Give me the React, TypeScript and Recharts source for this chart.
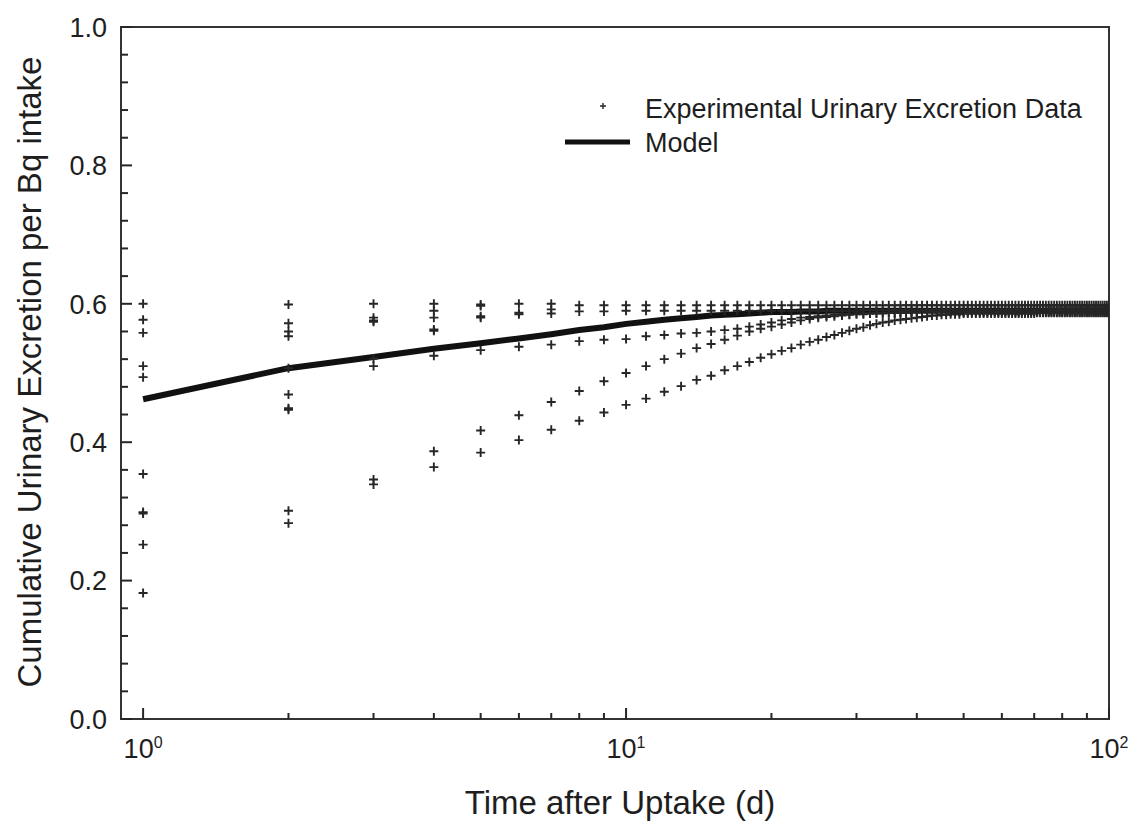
import React from "react";
import {
  ComposedChart,
  Scatter,
  Line,
  XAxis,
  YAxis,
  ReferenceArea,
  Legend,
  Label,
} from "recharts";

const FONT = '"Liberation Sans", Arial, Helvetica, sans-serif';
const INK = "#262626";
const TEXT = "#1e1e1e";

// days after uptake, one sample per day
const DAYS = [
  1, 2, 3, 4, 5, 6, 7, 8, 9, 10,
  11, 12, 13, 14, 15, 16, 17, 18, 19, 20,
  21, 22, 23, 24, 25, 26, 27, 28, 29, 30,
  31, 32, 33, 34, 35, 36, 37, 38, 39, 40,
  41, 42, 43, 44, 45, 46, 47, 48, 49, 50,
  51, 52, 53, 54, 55, 56, 57, 58, 59, 60,
  61, 62, 63, 64, 65, 66, 67, 68, 69, 70,
  71, 72, 73, 74, 75, 76, 77, 78, 79, 80,
  81, 82, 83, 84, 85, 86, 87, 88, 89, 90,
  91, 92, 93, 94, 95, 96, 97, 98, 99, 100,
];

// experimental cumulative excretion, the curves that stay distinct
const SUBJECT_A = [
  0.600, 0.599, 0.600, 0.600, 0.599, 0.600, 0.600, 0.598, 0.598, 0.598,
  0.598, 0.598, 0.598, 0.598, 0.598, 0.598, 0.598, 0.598, 0.598, 0.598,
  0.598, 0.598, 0.598, 0.598, 0.598, 0.598, 0.598, 0.598, 0.598, 0.598,
  0.598, 0.598, 0.598, 0.598, 0.598, 0.598, 0.598, 0.598, 0.598, 0.598,
  0.598, 0.598, 0.598, 0.598, 0.598, 0.598, 0.598, 0.598, 0.598, 0.598,
  0.598, 0.598, 0.598, 0.598, 0.598, 0.598, 0.598, 0.598, 0.598, 0.598,
  0.598, 0.598, 0.598, 0.598, 0.598, 0.598, 0.598, 0.598, 0.598, 0.598,
  0.598, 0.598, 0.598, 0.598, 0.598, 0.598, 0.598, 0.598, 0.598, 0.598,
  0.598, 0.598, 0.598, 0.598, 0.598, 0.598, 0.598, 0.598, 0.598, 0.598,
  0.598, 0.598, 0.598, 0.598, 0.598, 0.598, 0.598, 0.598, 0.598, 0.598,
];

const SUBJECT_B = [
  0.577, 0.572, 0.580, 0.590, 0.582, 0.587, 0.592, 0.589, 0.589, 0.590,
  0.590, 0.590, 0.590, 0.590, 0.590, 0.590, 0.590, 0.590, 0.590, 0.590,
  0.590, 0.590, 0.590, 0.590, 0.590, 0.590, 0.590, 0.590, 0.590, 0.590,
  0.591, 0.591, 0.591, 0.591, 0.591, 0.591, 0.591, 0.591, 0.591, 0.591,
  0.591, 0.591, 0.591, 0.591, 0.591, 0.591, 0.591, 0.591, 0.591, 0.591,
  0.591, 0.591, 0.591, 0.591, 0.591, 0.591, 0.591, 0.591, 0.591, 0.591,
  0.591, 0.591, 0.591, 0.591, 0.591, 0.591, 0.591, 0.591, 0.591, 0.591,
  0.591, 0.591, 0.591, 0.591, 0.591, 0.591, 0.591, 0.591, 0.591, 0.591,
  0.591, 0.591, 0.591, 0.591, 0.591, 0.591, 0.591, 0.591, 0.591, 0.591,
  0.591, 0.591, 0.591, 0.591, 0.591, 0.591, 0.591, 0.591, 0.591, 0.591,
];

const SUBJECT_E = [
  0.494, 0.507, 0.521, 0.525, 0.533, 0.538, 0.541, 0.546, 0.548, 0.549,
  0.553, 0.555, 0.557, 0.558, 0.560, 0.562, 0.564, 0.567, 0.570, 0.573,
  0.576, 0.578, 0.580, 0.581, 0.582, 0.583, 0.584, 0.585, 0.585, 0.586,
  0.586, 0.586, 0.587, 0.587, 0.587, 0.587, 0.588, 0.588, 0.588, 0.588,
  0.588, 0.588, 0.588, 0.588, 0.588, 0.588, 0.588, 0.588, 0.588, 0.588,
  0.588, 0.588, 0.588, 0.588, 0.588, 0.588, 0.588, 0.588, 0.588, 0.588,
  0.588, 0.588, 0.588, 0.588, 0.588, 0.588, 0.588, 0.588, 0.588, 0.588,
  0.588, 0.588, 0.588, 0.588, 0.588, 0.588, 0.588, 0.588, 0.588, 0.588,
  0.588, 0.588, 0.588, 0.588, 0.588, 0.588, 0.588, 0.588, 0.588, 0.588,
  0.588, 0.588, 0.588, 0.588, 0.588, 0.588, 0.588, 0.588, 0.588, 0.588,
];

const SUBJECT_I = [
  0.252, 0.301, 0.346, 0.387, 0.417, 0.439, 0.458, 0.474, 0.488, 0.500,
  0.510, 0.520, 0.528, 0.536, 0.542, 0.548, 0.554, 0.560, 0.564, 0.567,
  0.570, 0.573, 0.576, 0.578, 0.580, 0.581, 0.582, 0.583, 0.584, 0.585,
  0.585, 0.586, 0.586, 0.586, 0.587, 0.587, 0.587, 0.587, 0.588, 0.588,
  0.588, 0.588, 0.588, 0.588, 0.588, 0.588, 0.588, 0.588, 0.588, 0.588,
  0.588, 0.588, 0.588, 0.588, 0.588, 0.588, 0.588, 0.588, 0.588, 0.588,
  0.588, 0.588, 0.588, 0.588, 0.588, 0.588, 0.588, 0.588, 0.588, 0.588,
  0.588, 0.588, 0.588, 0.588, 0.588, 0.588, 0.588, 0.588, 0.588, 0.588,
  0.588, 0.588, 0.588, 0.588, 0.588, 0.588, 0.588, 0.588, 0.588, 0.588,
  0.588, 0.588, 0.588, 0.588, 0.588, 0.588, 0.588, 0.588, 0.588, 0.588,
];

const SUBJECT_J = [
  0.182, 0.283, 0.339, 0.364, 0.385, 0.403, 0.418, 0.431, 0.443, 0.454,
  0.463, 0.473, 0.481, 0.490, 0.496, 0.504, 0.510, 0.516, 0.522, 0.527,
  0.532, 0.536, 0.541, 0.545, 0.548, 0.552, 0.555, 0.558, 0.561, 0.564,
  0.566, 0.569, 0.571, 0.573, 0.574, 0.576, 0.577, 0.578, 0.579, 0.580,
  0.581, 0.582, 0.583, 0.583, 0.584, 0.584, 0.585, 0.585, 0.585, 0.586,
  0.586, 0.586, 0.586, 0.586, 0.586, 0.586, 0.586, 0.586, 0.586, 0.586,
  0.586, 0.586, 0.586, 0.586, 0.586, 0.586, 0.586, 0.586, 0.586, 0.586,
  0.587, 0.587, 0.587, 0.587, 0.587, 0.587, 0.587, 0.587, 0.587, 0.587,
  0.587, 0.587, 0.587, 0.587, 0.587, 0.587, 0.587, 0.587, 0.587, 0.587,
  0.587, 0.587, 0.587, 0.587, 0.587, 0.587, 0.587, 0.587, 0.587, 0.587,
];

// subjects that only separate from the others during the first days
const EARLY_DAYS = [1, 1, 1, 1, 1, 2, 2, 2, 2, 2, 3, 3, 3, 4, 4, 4, 5, 5, 6, 7];
const EARLY_VALUES = [
  0.558, 0.510, 0.354, 0.297, 0.299,
  0.560, 0.553, 0.469, 0.447, 0.449,
  0.574, 0.576, 0.510,
  0.580, 0.561, 0.563,
  0.597, 0.580,
  0.585,
  0.586,
];

const MODEL = [
  0.462, 0.507, 0.523, 0.535, 0.543, 0.550, 0.556, 0.562, 0.566, 0.571,
  0.574, 0.577, 0.579, 0.581, 0.583, 0.584, 0.585, 0.586, 0.587, 0.588,
  0.588, 0.588, 0.589, 0.589, 0.589, 0.590, 0.590, 0.590, 0.590, 0.590,
  0.590, 0.590, 0.590, 0.590, 0.590, 0.590, 0.590, 0.590, 0.590, 0.590,
  0.590, 0.590, 0.590, 0.590, 0.590, 0.590, 0.590, 0.590, 0.590, 0.590,
  0.590, 0.590, 0.590, 0.590, 0.590, 0.590, 0.590, 0.590, 0.590, 0.590,
  0.590, 0.590, 0.590, 0.590, 0.590, 0.590, 0.590, 0.590, 0.590, 0.590,
  0.590, 0.590, 0.590, 0.590, 0.590, 0.590, 0.590, 0.590, 0.590, 0.590,
  0.590, 0.590, 0.590, 0.590, 0.590, 0.590, 0.590, 0.590, 0.590, 0.590,
  0.590, 0.590, 0.590, 0.590, 0.590, 0.590, 0.590, 0.590, 0.590, 0.590,
];

const X_TICKS = [1, 2, 3, 4, 5, 6, 7, 8, 9, 10, 20, 30, 40, 50, 60, 70, 80, 90, 100];
const X_MAJOR = [1, 10, 100];
const Y_TICKS = [
  0, 0.04, 0.08, 0.12, 0.16, 0.2, 0.24, 0.28, 0.32, 0.36, 0.4, 0.44, 0.48,
  0.52, 0.56, 0.6, 0.64, 0.68, 0.72, 0.76, 0.8, 0.84, 0.88, 0.92, 0.96, 1.0,
];
const Y_MAJOR = [0, 0.2, 0.4, 0.6, 0.8, 1.0];

const experimentalPoints = [SUBJECT_A, SUBJECT_B, SUBJECT_E, SUBJECT_I, SUBJECT_J]
  .flatMap((series) => DAYS.map((day, i) => ({ day, value: series[i] })))
  .concat(EARLY_DAYS.map((day, i) => ({ day, value: EARLY_VALUES[i] })));

const modelPoints = DAYS.map((day, i) => ({ day, value: MODEL[i] }));

function Cross(props: any) {
  const { cx, cy } = props;
  if (cx == null || cy == null) return null;
  const r = 4.5;
  return (
    <path
      d={`M${cx - r},${cy}H${cx + r}M${cx},${cy - r}V${cy + r}`}
      stroke={INK}
      strokeWidth={1.9}
      fill="none"
    />
  );
}

function XTick(props: any) {
  const { x, y, payload } = props;
  const v = payload.value;
  const major = X_MAJOR.includes(v);
  return (
    <g>
      <line x1={x} x2={x} y1={y} y2={y - (major ? 11 : 6)} stroke={INK} strokeWidth={2} />
      {major && (
        <text x={x} y={y + 39} textAnchor="middle" fontSize={27} fill={TEXT} fontFamily={FONT}>
          10
          <tspan dy={-10} fontSize={16}>
            {Math.round(Math.log10(v))}
          </tspan>
        </text>
      )}
    </g>
  );
}

function YTick(props: any) {
  const { x, y, payload } = props;
  const v = payload.value;
  const major = Y_MAJOR.some((m) => Math.abs(m - v) < 1e-9);
  return (
    <g>
      <line x1={x} x2={x + (major ? 11 : 7)} y1={y} y2={y} stroke={INK} strokeWidth={2} />
      {major && (
        <text x={x - 14} y={y} dy="0.36em" textAnchor="end" fontSize={27} fill={TEXT} fontFamily={FONT}>
          {v.toFixed(1)}
        </text>
      )}
    </g>
  );
}

function LegendBox() {
  return (
    <svg width={560} height={80} style={{ display: "block", overflow: "visible" }}>
      <path d="M45,18H51M48,15V21" stroke={INK} strokeWidth={1.4} />
      <text x={90} y={20} dy="0.36em" fontSize={27} fill={TEXT} fontFamily={FONT}>
        Experimental Urinary Excretion Data
      </text>
      <line x1={10} x2={75} y1={54} y2={54} stroke="#111" strokeWidth={5} />
      <text x={90} y={54} dy="0.36em" fontSize={27} fill={TEXT} fontFamily={FONT}>
        Model
      </text>
    </svg>
  );
}

export default function App() {
  return (
    <div style={{ position: "absolute", left: 0, top: 0, width: 1133, height: 825, background: "#fff" }}>
      <ComposedChart width={1133} height={825} margin={{ top: 27, right: 24, bottom: 0, left: 0 }}>
        <XAxis
          dataKey="day"
          type="number"
          scale="log"
          domain={[0.9, 100]}
          allowDataOverflow
          ticks={X_TICKS}
          interval={0}
          height={106}
          axisLine={false}
          tickLine={false}
          tickSize={0}
          tickMargin={0}
          tick={<XTick />}
        >
          <Label
            content={() => (
              <text x={620} y={814} textAnchor="middle" fontSize={33} fill={TEXT} fontFamily={FONT}>
                Time after Uptake (d)
              </text>
            )}
          />
        </XAxis>
        <YAxis
          dataKey="value"
          type="number"
          domain={[0, 1]}
          ticks={Y_TICKS}
          interval={0}
          width={121}
          axisLine={false}
          tickLine={false}
          tickSize={0}
          tickMargin={0}
          tick={<YTick />}
        >
          <Label
            content={() => (
              <text
                transform="translate(29,372) rotate(-90)"
                dy="0.36em"
                textAnchor="middle"
                fontSize={33}
                fill={TEXT}
                fontFamily={FONT}
              >
                Cumulative Urinary Excretion per Bq intake
              </text>
            )}
          />
        </YAxis>
        <ReferenceArea
          x1={0.9}
          x2={100}
          y1={0}
          y2={1}
          fill="none"
          stroke="#333"
          strokeWidth={2}
          ifOverflow="visible"
        />
        <Scatter
          name="Experimental Urinary Excretion Data"
          data={experimentalPoints}
          dataKey="value"
          shape={<Cross />}
          isAnimationActive={false}
        />
        <Line
          name="Model"
          data={modelPoints}
          dataKey="value"
          type="linear"
          stroke="#111"
          strokeWidth={6}
          dot={false}
          activeDot={false}
          isAnimationActive={false}
        />
        <Legend
          layout="vertical"
          align="center"
          verticalAlign="middle"
          wrapperStyle={{ left: 555, top: 88, width: 560, height: 80 }}
          content={() => <LegendBox />}
        />
      </ComposedChart>
    </div>
  );
}
